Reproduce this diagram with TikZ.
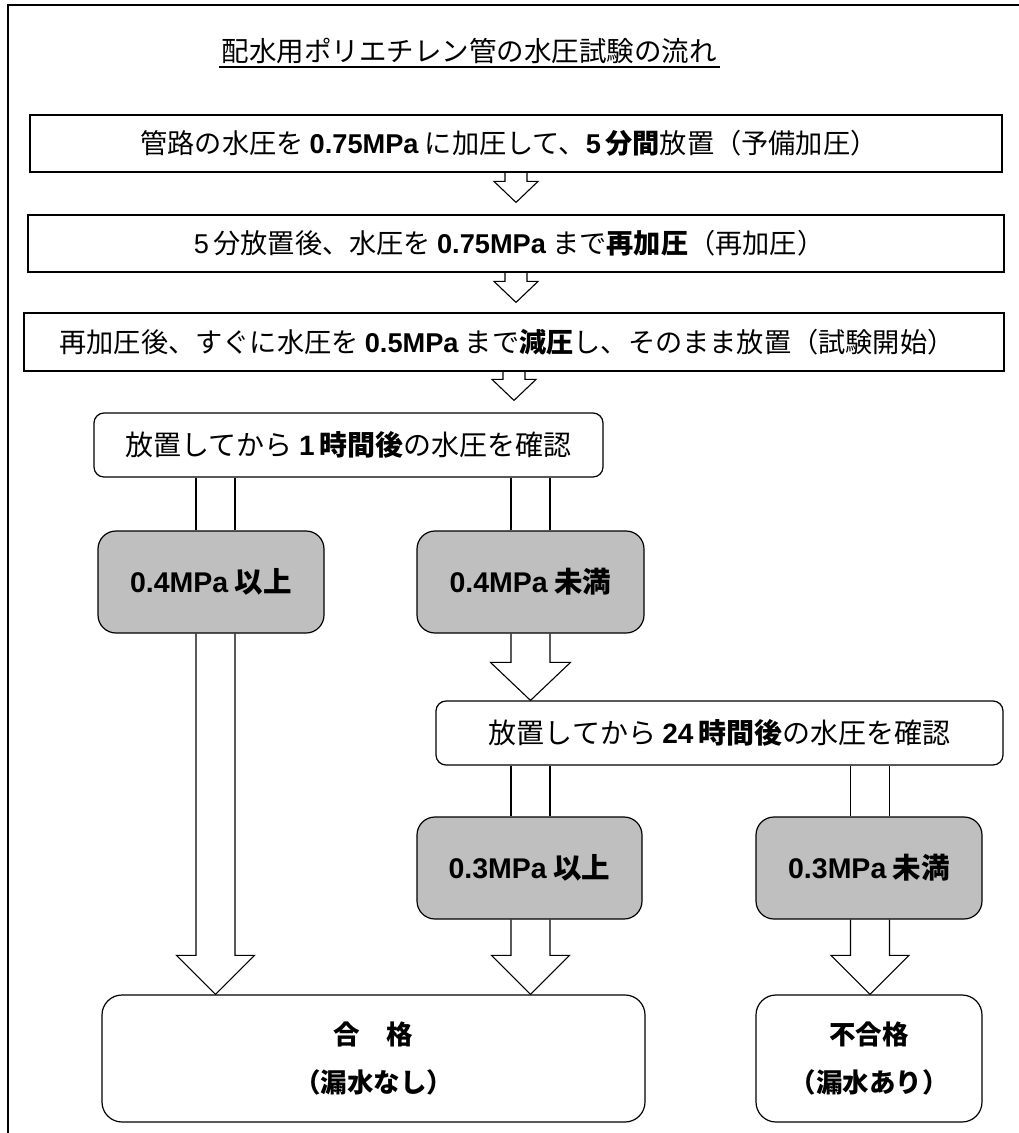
\documentclass[tikz,border=0pt]{standalone}
\usepackage{fontspec}
\setmainfont{Noto Sans CJK JP}
\newfontfamily\lat{Liberation Sans}
\usetikzlibrary{calc}
\tikzset{
  flowbox/.style={draw, line width=1.2pt, fill=white, inner sep=0pt, font=\fontsize{28}{32}\selectfont},
  stepbox/.style={flowbox, font=\fontsize{27.2}{32}\selectfont},
  roundbox/.style={flowbox, rounded corners=10pt},
  graybox/.style={draw, line width=1.2pt, fill=black!25, rounded corners=18pt, inner sep=0pt, font=\bfseries\fontsize{28.5}{32}\selectfont},
  endbox/.style={draw, line width=1.2pt, fill=white, rounded corners=20pt, inner sep=0pt, align=center, font=\bfseries\fontsize{26.5}{48}\selectfont},
  arrowline/.style={line width=1.1pt, line join=miter},
  frameline/.style={line width=2pt},
}
\newcommand\myblockarrow[5]{%
  \draw[arrowline] let \p1=(#1), \p2=(#2) in
    (\x1-#3pt,\y1) -- (\x1-#3pt,\y2+#5pt) -- (\x1-#4pt,\y2+#5pt) -- (\x1,\y2)
    -- (\x1+#4pt,\y2+#5pt) -- (\x1+#3pt,\y2+#5pt) -- (\x1+#3pt,\y1);}
\newcommand\myshafts[3]{%
  \draw[arrowline] let \p1=(#1), \p2=(#2) in
    (\x1-#3pt,\y1) -- (\x1-#3pt,\y2) (\x1+#3pt,\y1) -- (\x1+#3pt,\y2);}
\begin{document}
\begin{tikzpicture}[x=1pt,y=-1pt]
\useasboundingbox (0,0) rectangle (1018,1133);
% frame
\draw[frameline] (8,1140) -- (8,5) -- (1022,5);
% column positions
\coordinate (xa) at (516,0);
\coordinate (xb) at (514,0);
\coordinate (xL) at (215.5,0);
\coordinate (xM) at (530.5,0);
\coordinate (xR) at (870,0);
% title
\node[inner sep=0pt, font=\fontsize{27.5}{30}\selectfont] (title) at (469,51) {配水用ポリエチレン管の水圧試験の流れ};
\draw[line width=1.8pt] ($(title.south west)+(-2,3)$) -- ($(title.south east)+(3,3)$);
% steps
\node[stepbox, minimum width=972, minimum height=57] (b1) at (516,143.5)
  {\hspace*{-14pt}管路の水圧を \textbf{\lat 0.75MPa} に加圧して、\textbf{{\lat 5}\,分間}放置（予備加圧）};
\node[stepbox, minimum width=976, minimum height=57] (b2) at (516,243.5)
  {\hspace*{-14pt}{\lat 5}\,分放置後、水圧を \textbf{\lat 0.75MPa} まで\textbf{再加圧}（再加圧）};
\node[stepbox, minimum width=980, minimum height=58] (b3) at (514,342)
  {\hspace*{-14pt}再加圧後、すぐに水圧を \textbf{\lat 0.5MPa} まで\textbf{減圧}し、そのまま放置（試験開始）};
\node[roundbox, minimum width=509, minimum height=64] (b4) at (348.5,445)
  {放置してから \textbf{{\lat 1}\,時間後}の水圧を確認};
\node[graybox, minimum width=226, minimum height=102] (gA) at (211,582) {{\lat 0.4MPa} 以上};
\node[graybox, minimum width=227, minimum height=102] (gB) at (530.5,582) {{\lat 0.4MPa} 未満};
\node[roundbox, minimum width=567, minimum height=64] (b5) at (719.5,733)
  {放置してから \textbf{{\lat 24}\,時間後}の水圧を確認};
\node[graybox, minimum width=225, minimum height=102] (gC) at (529.5,868) {{\lat 0.3MPa} 以上};
\node[graybox, minimum width=226, minimum height=102] (gD) at (869,868) {{\lat 0.3MPa} 未満};
\node[endbox, minimum width=543, minimum height=127] (fl) at (373.5,1058.5) {合　格\\（漏水なし）};
\node[endbox, minimum width=226, minimum height=127] (fr) at (869,1058.5) {不合格\\（漏水あり）};
% arrows
\myblockarrow{b1.south -| xa}{$(b2.north -| xa)+(0,-12)$}{11}{22}{21}
\myblockarrow{b2.south -| xa}{$(b3.north -| xa)+(0,-10)$}{11}{22}{21}
\myblockarrow{b3.south -| xb}{$(b4.north -| xb)+(0,-12)$}{11}{22}{21}
\myshafts{b4.south -| xL}{gA.north -| xL}{19.5}
\myshafts{b4.south -| xM}{gB.north -| xM}{19.5}
\myblockarrow{gA.south -| xL}{fl.north -| xL}{19.5}{39}{39}
\myblockarrow{gB.south -| xM}{b5.north -| xM}{19.5}{40}{38}
\myshafts{b5.south -| xM}{gC.north -| xM}{19.5}
\myshafts{b5.south -| xR}{gD.north -| xR}{19.5}
\myblockarrow{gC.south -| xM}{fl.north -| xM}{19.5}{39}{39}
\myblockarrow{gD.south -| xR}{fr.north -| xR}{19.5}{39}{39}
\end{tikzpicture}
\end{document}
